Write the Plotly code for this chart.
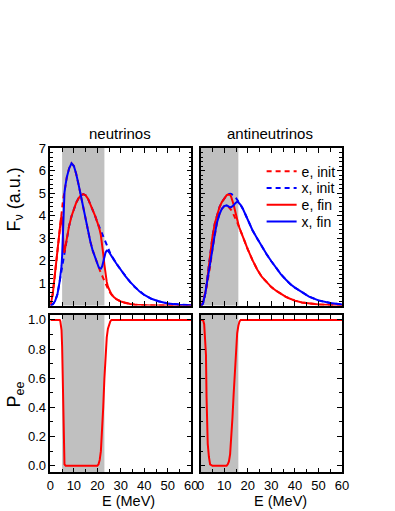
import plotly.graph_objects as go

# ---------------- data ----------------
E_nu = [0, 1, 2, 3, 4, 4.25, 4.5, 4.75, 5, 5.25, 5.5, 5.75, 6, 6.5, 7, 8, 9, 10, 11, 12, 13, 14, 15, 16,
        17, 18, 19, 20, 20.5, 21, 21.5, 22, 22.5, 23, 23.5, 24, 24.5, 25, 25.5, 26, 27, 28, 30, 32, 34,
        36, 38, 40, 43, 46, 50, 55, 60]
nu_e_init = [0, 0.5, 1.45, 2.5, 3.5, 3.73, 3.95, 4.15, 4.35, 4.55, 4.75, 4.92, 5.05, 5.4, 5.7, 6.1, 6.32,
             6.2, 5.85, 5.38, 4.87, 4.33, 3.8, 3.32, 2.85, 2.45, 2.13, 1.83, 1.7, 1.58, 1.45, 1.33, 1.2,
             1.07, 0.95, 0.83, 0.73, 0.64, 0.56, 0.49, 0.38, 0.29, 0.18, 0.11, 0.065, 0.04, 0.022, 0.012,
             0.005, 0.002, 0, 0, 0]
nu_x_init = [0, 0.05, 0.2, 0.5, 1.1, 1.25, 1.42, 1.58, 1.74, 1.9, 2.05, 2.2, 2.35, 2.68, 3.0, 3.55, 3.97,
             4.3, 4.57, 4.77, 4.9, 4.95, 4.9, 4.75, 4.52, 4.28, 4.0, 3.7, 3.57, 3.43, 3.3, 3.17, 3.04,
             2.91, 2.78, 2.66, 2.54, 2.42, 2.32, 2.22, 2.04, 1.88, 1.58, 1.3, 1.04, 0.81, 0.62, 0.47,
             0.3, 0.19, 0.09, 0.035, 0.01]
nu_e_fin = [0, 0.5, 1.45, 2.5, 3.5, 3.71, 3.87, 3.97, 3.88, 3.36, 2.64, 2.36, 2.38, 2.68, 3.0, 3.55, 3.97,
            4.3, 4.57, 4.77, 4.9, 4.95, 4.9, 4.75, 4.52, 4.28, 4.0, 3.7, 3.55, 3.36, 3.12, 2.77, 2.30,
            1.81, 1.37, 1.05, 0.84, 0.69, 0.58, 0.49, 0.38, 0.29, 0.18, 0.11, 0.065, 0.04, 0.022, 0.012,
            0.005, 0.002, 0, 0, 0]
nu_x_fin = [0, 0.05, 0.2, 0.5, 1.1, 1.27, 1.50, 1.76, 2.21, 3.09, 4.16, 4.76, 5.02, 5.4, 5.7, 6.1, 6.32,
            6.2, 5.85, 5.38, 4.87, 4.33, 3.8, 3.32, 2.85, 2.45, 2.13, 1.83, 1.72, 1.65, 1.64, 1.73, 1.94,
            2.17, 2.36, 2.44, 2.43, 2.37, 2.30, 2.22, 2.04, 1.88, 1.58, 1.3, 1.04, 0.81, 0.62, 0.47,
            0.3, 0.19, 0.09, 0.035, 0.01]
nu_Pee = [1, 1, 1, 1, 1, 0.99, 0.97, 0.93, 0.82, 0.55, 0.22, 0.06, 0.01, 0, 0, 0, 0, 0, 0, 0, 0, 0, 0, 0,
          0, 0, 0, 0, 0.01, 0.04, 0.1, 0.22, 0.4, 0.6, 0.77, 0.88, 0.94, 0.97, 0.99, 1, 1, 1, 1, 1, 1,
          1, 1, 1, 1, 1, 1, 1, 1]

E_an = [0, 0.5, 1, 1.5, 2, 2.25, 2.5, 2.75, 3, 3.5, 4, 5, 6, 7, 8, 9, 10, 11, 11.5, 12, 12.5, 13, 13.5,
        14, 14.5, 15, 15.5, 16, 16.5, 17, 18, 19, 20, 22, 24, 26, 28, 30, 32, 34, 36, 38, 40, 43, 46,
        50, 55, 60]
an_e_init = [0, 0.03, 0.14, 0.33, 0.56, 0.69, 0.82, 0.96, 1.1, 1.38, 1.73, 2.5, 3.18, 3.72, 4.07, 4.3,
             4.42, 4.45, 4.42, 4.37, 4.31, 4.24, 4.15, 4.05, 3.94, 3.82, 3.7, 3.57, 3.43, 3.3, 3.03,
             2.76, 2.5, 2.02, 1.6, 1.27, 1.02, 0.82, 0.66, 0.52, 0.4, 0.3, 0.22, 0.14, 0.085, 0.045,
             0.02, 0.008]
an_x_init = [0, 0.02, 0.1, 0.27, 0.55, 0.76, 0.97, 1.2, 1.42, 1.85, 2.28, 3.05, 3.65, 4.05, 4.38, 4.6,
             4.78, 4.9, 4.94, 4.96, 4.97, 4.96, 4.93, 4.89, 4.84, 4.78, 4.71, 4.63, 4.55, 4.47, 4.28,
             4.05, 3.8, 3.35, 2.98, 2.62, 2.28, 1.97, 1.67, 1.4, 1.17, 0.96, 0.8, 0.58, 0.4, 0.23,
             0.11, 0.05]
an_e_fin = [0, 0.03, 0.14, 0.33, 0.56, 0.71, 0.90, 1.13, 1.37, 1.82, 2.27, 3.05, 3.65, 4.05, 4.38, 4.6,
            4.78, 4.9, 4.93, 4.94, 4.92, 4.82, 4.67, 4.48, 4.26, 4.01, 3.79, 3.61, 3.44, 3.3, 3.03,
            2.76, 2.5, 2.02, 1.6, 1.27, 1.02, 0.82, 0.66, 0.52, 0.4, 0.3, 0.22, 0.14, 0.085, 0.045,
            0.02, 0.008]
an_x_fin = [0, 0.02, 0.1, 0.27, 0.55, 0.74, 0.89, 1.03, 1.15, 1.41, 1.74, 2.5, 3.18, 3.72, 4.07, 4.3,
            4.42, 4.45, 4.43, 4.39, 4.36, 4.38, 4.41, 4.46, 4.53, 4.59, 4.62, 4.59, 4.54, 4.47, 4.28,
            4.05, 3.8, 3.35, 2.98, 2.62, 2.28, 1.97, 1.67, 1.4, 1.17, 0.96, 0.8, 0.58, 0.4, 0.23,
            0.11, 0.05]
an_Pee = [1, 1, 1, 0.97, 0.87, 0.76, 0.47, 0.28, 0.15, 0.06, 0.01, 0, 0, 0, 0, 0, 0, 0, 0.01, 0.03,
          0.08, 0.19, 0.33, 0.49, 0.65, 0.8, 0.91, 0.96, 0.99, 1, 1, 1, 1, 1, 1, 1, 1, 1, 1, 1, 1, 1, 1,
          1, 1, 1, 1, 1]

shade_nu = [5, 23]      # MeV
shade_an = [0, 16]      # MeV

F_ticks = [1, 2, 3, 4, 5, 6, 7]
P_ticks = [0.0, 0.2, 0.4, 0.6, 0.8, 1.0]
E_ticks = [0, 10, 20, 30, 40, 50, 60]
titles = ["neutrinos", "antineutrinos"]
legend_names = ["e, init", "x, init", "e, fin", "x, fin"]

# ---------------- figure ----------------
RED = "#ff0000"
BLUE = "#0000ff"
DASH = "5px,4px"
FONT = "Liberation Sans, Arial, Helvetica, sans-serif"

fig = go.Figure()


def add(x, y, color, dash, xa, ya, name=None, legend=None):
    kw = dict(showlegend=False)
    if legend is not None:
        kw = dict(showlegend=True, legend=legend)
    fig.add_trace(go.Scatter(x=x, y=y, mode="lines", name=name,
                             line=dict(color=color, width=2, dash=dash),
                             xaxis=xa, yaxis=ya, hoverinfo="skip", **kw))


add(E_nu, nu_e_init, RED, DASH, "x", "y")
add(E_nu, nu_x_init, BLUE, DASH, "x", "y")
add(E_nu, nu_e_fin, RED, "solid", "x", "y")
add(E_nu, nu_x_fin, BLUE, "solid", "x", "y")
add(E_an, an_e_init, RED, DASH, "x2", "y2", legend_names[0], "legend")
add(E_an, an_x_init, BLUE, DASH, "x2", "y2", legend_names[1], "legend2")
add(E_an, an_e_fin, RED, "solid", "x2", "y2", legend_names[2], "legend3")
add(E_an, an_x_fin, BLUE, "solid", "x2", "y2", legend_names[3], "legend4")
add(E_nu, nu_Pee, RED, "solid", "x3", "y3")
add(E_an, an_Pee, RED, "solid", "x4", "y4")

GRAY = "#c0c0c0"
shapes = []
for (lo, hi), xr, yr in [(shade_nu, "x", "y"), (shade_an, "x2", "y2"),
                         (shade_nu, "x3", "y3"), (shade_an, "x4", "y4")]:
    shapes.append(dict(type="rect", xref=xr, yref=yr + " domain", x0=lo, x1=hi, y0=0, y1=1,
                       fillcolor=GRAY, line=dict(width=0), layer="below"))

XL = [47.7 / 395, 192.7 / 395]
XR = [202.3 / 395, 347.7 / 395]
YT = [(511 - 303.3) / 511, (511 - 143.3) / 511]
YB = [(511 - 472.7) / 511, (511 - 312.7) / 511]

common = dict(showline=True, linecolor="black", linewidth=1.5, mirror="allticks",
              ticks="inside", ticklen=5, tickwidth=1, tickcolor="black",
              showgrid=False, zeroline=False,
              tickfont=dict(size=13, color="black", family=FONT))


def xax(domain, anchor, labels):
    return dict(common, domain=domain, anchor=anchor, range=[0, 60],
                tickmode="array", tickvals=E_ticks, showticklabels=labels,
                minor=dict(ticks="inside", ticklen=4, tickcolor="black", tickmode="linear",
                           tick0=0, dtick=5, showgrid=False))


def yF(domain, anchor, labels):
    return dict(common, domain=domain, anchor=anchor, range=[0, 7],
                tickmode="array", tickvals=F_ticks, showticklabels=labels,
                minor=dict(ticks="inside", ticklen=3, tickcolor="black", tickmode="linear",
                           tick0=0, dtick=0.2, showgrid=False))


def yP(domain, anchor, labels):
    return dict(common, domain=domain, anchor=anchor, range=[-0.045, 1.035],
                tickmode="array", tickvals=P_ticks, ticktext=[f"{v:.1f}" for v in P_ticks],
                showticklabels=labels,
                minor=dict(ticks="inside", ticklen=3, tickcolor="black", tickmode="linear",
                           tick0=0, dtick=0.1, showgrid=False))


ann_font = dict(size=15, color="black", family=FONT)
annotations = [
    dict(text=titles[0], x=119 / 395, y=(511 - 129) / 511, xref="paper", yref="paper",
         showarrow=False, font=ann_font, xanchor="center", yanchor="middle"),
    dict(text=titles[1], x=274 / 395, y=(511 - 129) / 511, xref="paper", yref="paper",
         showarrow=False, font=ann_font, xanchor="center", yanchor="middle"),
    dict(text="F<sub>ν</sub> (a.u.)", x=12 / 395, y=(511 - 196) / 511, xref="paper", yref="paper",
         showarrow=False, font=dict(ann_font, size=18), textangle=-90,
         xanchor="center", yanchor="middle"),
    dict(text="P<sub>ee</sub>", x=12 / 395, y=(511 - 394) / 511, xref="paper", yref="paper",
         showarrow=False, font=dict(ann_font, size=18), textangle=-90,
         xanchor="center", yanchor="middle"),
    dict(text="E (MeV)", x=128 / 395, y=(511 - 502) / 511, xref="paper", yref="paper",
         showarrow=False, font=dict(ann_font, size=14.5), xanchor="center", yanchor="middle"),
    dict(text="E (MeV)", x=284 / 395, y=(511 - 502) / 511, xref="paper", yref="paper",
         showarrow=False, font=dict(ann_font, size=14.5), xanchor="center", yanchor="middle"),
]

leg_rows = [151, 168, 185, 202]   # top pixel of each legend row
legends = {}
for i, top in enumerate(leg_rows):
    key = "legend" if i == 0 else f"legend{i + 1}"
    legends[key] = dict(x=265 / 395, y=(511 - top) / 511, xanchor="left", yanchor="top",
                        bgcolor="rgba(0,0,0,0)", borderwidth=0,
                        font=dict(size=14, color="black", family=FONT), itemwidth=30)

fig.update_layout(
    width=395, height=511, autosize=False,
    margin=dict(l=0, r=0, t=0, b=0),
    paper_bgcolor="white", plot_bgcolor="white",
    font=dict(family=FONT, color="black"),
    xaxis=xax(XL, "y", False), yaxis=yF(YT, "x", True),
    xaxis2=xax(XR, "y2", False), yaxis2=yF(YT, "x2", False),
    xaxis3=xax(XL, "y3", True), yaxis3=yP(YB, "x3", True),
    xaxis4=xax(XR, "y4", True), yaxis4=yP(YB, "x4", False),
    shapes=shapes, annotations=annotations,
    showlegend=True,
    **legends,
)

fig.write_html("out.html", config={"displayModeBar": False},
               post_script="document.body.style.margin='0';")
